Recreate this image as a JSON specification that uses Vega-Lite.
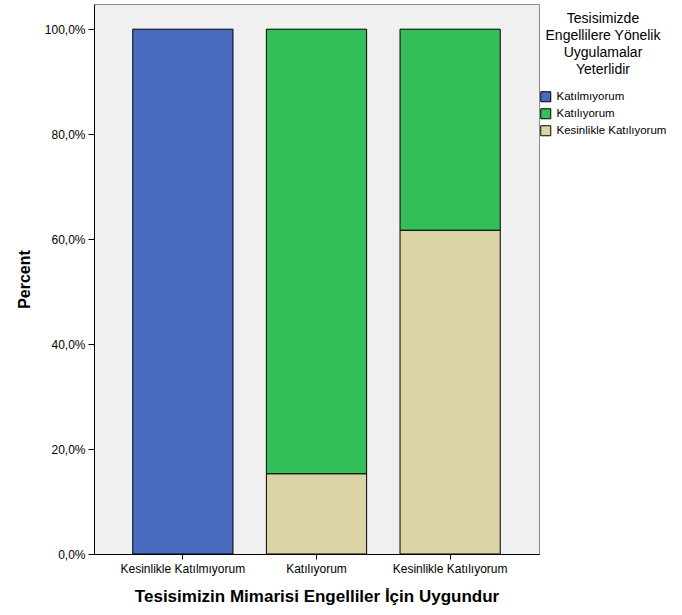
{
  "$schema": "https://vega.github.io/schema/vega-lite/v6.json",
  "autosize": {"type": "none"},
  "padding": {"left": 94, "top": 4, "right": 143, "bottom": 61},
  "width": 445,
  "height": 550,
  "background": "white",
  "config": {
    "font": "Liberation Sans",
    "view": {"fill": "#f0f0f0", "stroke": "#8c8c8c", "strokeWidth": 1},
    "axis": {"labelColor": "#000", "titleColor": "#000", "domainColor": "#000", "tickColor": "#000", "labelFont": "Liberation Sans", "titleFont": "Liberation Sans"}
  },
  "data": {
    "values": [
      {"group": "Kesinlikle Katılmıyorum", "answer": "Katılmıyorum", "percent": 100},
      {"group": "Katılıyorum", "answer": "Kesinlikle Katılıyorum", "percent": 15.3},
      {"group": "Katılıyorum", "answer": "Katılıyorum", "percent": 84.7},
      {"group": "Kesinlikle Katılıyorum", "answer": "Kesinlikle Katılıyorum", "percent": 61.7},
      {"group": "Kesinlikle Katılıyorum", "answer": "Katılıyorum", "percent": 38.3}
    ]
  },
  "mark": {"type": "bar", "stroke": "#000", "strokeWidth": 1},
  "encoding": {
    "x": {
      "field": "group",
      "type": "nominal",
      "sort": ["Kesinlikle Katılmıyorum", "Katılıyorum", "Kesinlikle Katılıyorum"],
      "scale": {"paddingInner": 0.25, "paddingOuter": 0.29},
      "axis": {
        "title": "Tesisimizin Mimarisi Engelliler İçin Uygundur",
        "titleFontSize": 17,
        "titleFontWeight": "bold",
        "titlePadding": 14,
        "labelAngle": 0,
        "labelFontSize": 12,
        "labelPadding": 4,
        "tickSize": 5,
        "grid": false
      }
    },
    "y": {
      "field": "percent",
      "type": "quantitative",
      "stack": "zero",
      "scale": {"domain": [0, 104.8], "nice": false},
      "axis": {
        "title": "Percent",
        "titleFontSize": 16,
        "titleFontWeight": "bold",
        "titlePadding": 12,
        "values": [0, 20, 40, 60, 80, 100],
        "labelExpr": "replace(format(datum.value, '.1f'), '.', ',') + '%'",
        "labelFontSize": 12,
        "labelPadding": 3,
        "tickSize": 6,
        "grid": false
      }
    },
    "color": {
      "field": "answer",
      "type": "nominal",
      "scale": {
        "domain": ["Katılmıyorum", "Katılıyorum", "Kesinlikle Katılıyorum"],
        "range": ["#4a6bbd", "#33be58", "#dad4a6"]
      },
      "legend": {
        "title": ["Tesisimizde", "Engellilere Yönelik", "Uygulamalar", "Yeterlidir"],
        "orient": "none",
        "legendX": 446,
        "legendY": 8,
        "titleAlign": "center",
        "titleAnchor": "middle",
        "titleFontSize": 14,
        "titleFontWeight": "normal",
        "titleLineHeight": 17,
        "titleColor": "#000",
        "titlePadding": 14,
        "labelFontSize": 11.5,
        "labelColor": "#000",
        "labelOffset": 5,
        "symbolType": "square",
        "symbolSize": 100,
        "symbolStrokeColor": "#000",
        "symbolStrokeWidth": 1,
        "rowPadding": 2,
        "padding": 0
      }
    },
    "order": {"field": "answer", "sort": "descending"}
  }
}
